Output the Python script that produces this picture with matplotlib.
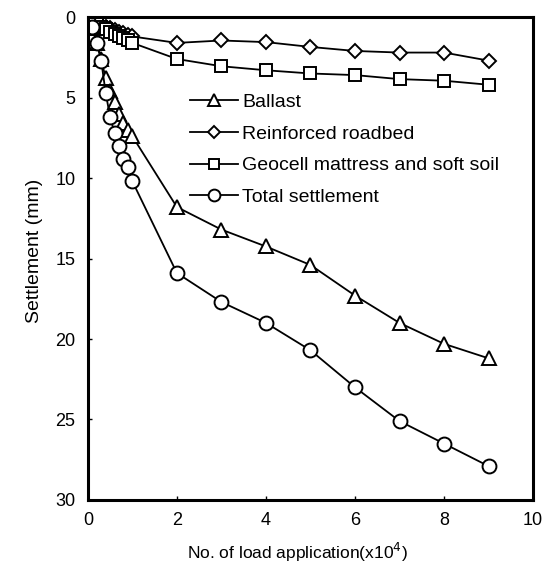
import numpy as np
import matplotlib
matplotlib.use("Agg")
import matplotlib.pyplot as plt

plt.rcParams['font.family'] = ['Liberation Sans', 'DejaVu Sans']

# load applications (x10^4)
x_load = [0, 0.1, 0.2, 0.3, 0.4, 0.5, 0.6, 0.7, 0.8, 0.9, 1.0,
          2, 3, 4, 5, 6, 7, 8, 9]

# settlements (mm)
y_ballast = [0, 0.7, 1.6, 2.6, 3.8, 4.6, 5.3, 6.0, 6.6, 7.0, 7.4,
             11.8, 13.2, 14.25, 15.4, 17.3, 19.0, 20.3, 21.2]
y_road = [0, 0.2, 0.35, 0.5, 0.6, 0.7, 0.8, 0.9, 1.0, 1.1, 1.2,
          1.6, 1.45, 1.55, 1.85, 2.1, 2.2, 2.2, 2.7]
y_geo = [0, 0.2, 0.4, 0.6, 0.75, 0.9, 1.05, 1.2, 1.3, 1.45, 1.6,
         2.6, 3.05, 3.3, 3.5, 3.6, 3.85, 3.95, 4.2]
y_total = [0, 0.6, 1.6, 2.7, 4.7, 6.2, 7.2, 8.0, 8.8, 9.3, 10.2,
           15.9, 17.7, 19.0, 20.7, 23.0, 25.1, 26.5, 27.9]

fig = plt.figure(figsize=(5.49, 5.72), dpi=100)
ax = fig.add_axes([0.160, 0.126, 0.811, 0.844])

kw = dict(color="black", lw=1.3, mfc="white", mec="black", mew=1.4)
ax.plot(x_load, y_ballast, marker="^", ms=10, label="Ballast", **kw)
ax.plot(x_load, y_road, marker="D", ms=7, label="Reinforced roadbed", **kw)
ax.plot(x_load, y_geo, marker="s", ms=9, label="Geocell mattress and soft soil", **kw)
ax.plot(x_load, y_total, marker="o", ms=10, label="Total settlement", **kw)

ax.set_xlim(0, 10)
ax.set_ylim(30, 0)
ax.set_xticks(np.arange(0, 11, 2))
ax.set_yticks(np.arange(0, 31, 5))
ax.tick_params(direction="in", length=3, width=1, labelsize=13, pad=9)
for s in ax.spines.values():
    s.set_linewidth(2.2)

ax.set_xlabel("No. of load application(x10$^4$)", fontsize=12.5, labelpad=9)
ax.xaxis.set_label_coords(0.47, -0.085)
ax.set_ylabel("Settlement (mm)", fontsize=14, labelpad=5)
ax.yaxis.set_label_coords(-0.1, 0.515)

ax.legend(loc="upper left", bbox_to_anchor=(0.211, 0.858), frameon=False,
          fontsize=14, handlelength=2.5, handletextpad=0.2,
          labelspacing=0.72, borderaxespad=0, markerscale=0.85)

fig.savefig("out.png", dpi=100)
